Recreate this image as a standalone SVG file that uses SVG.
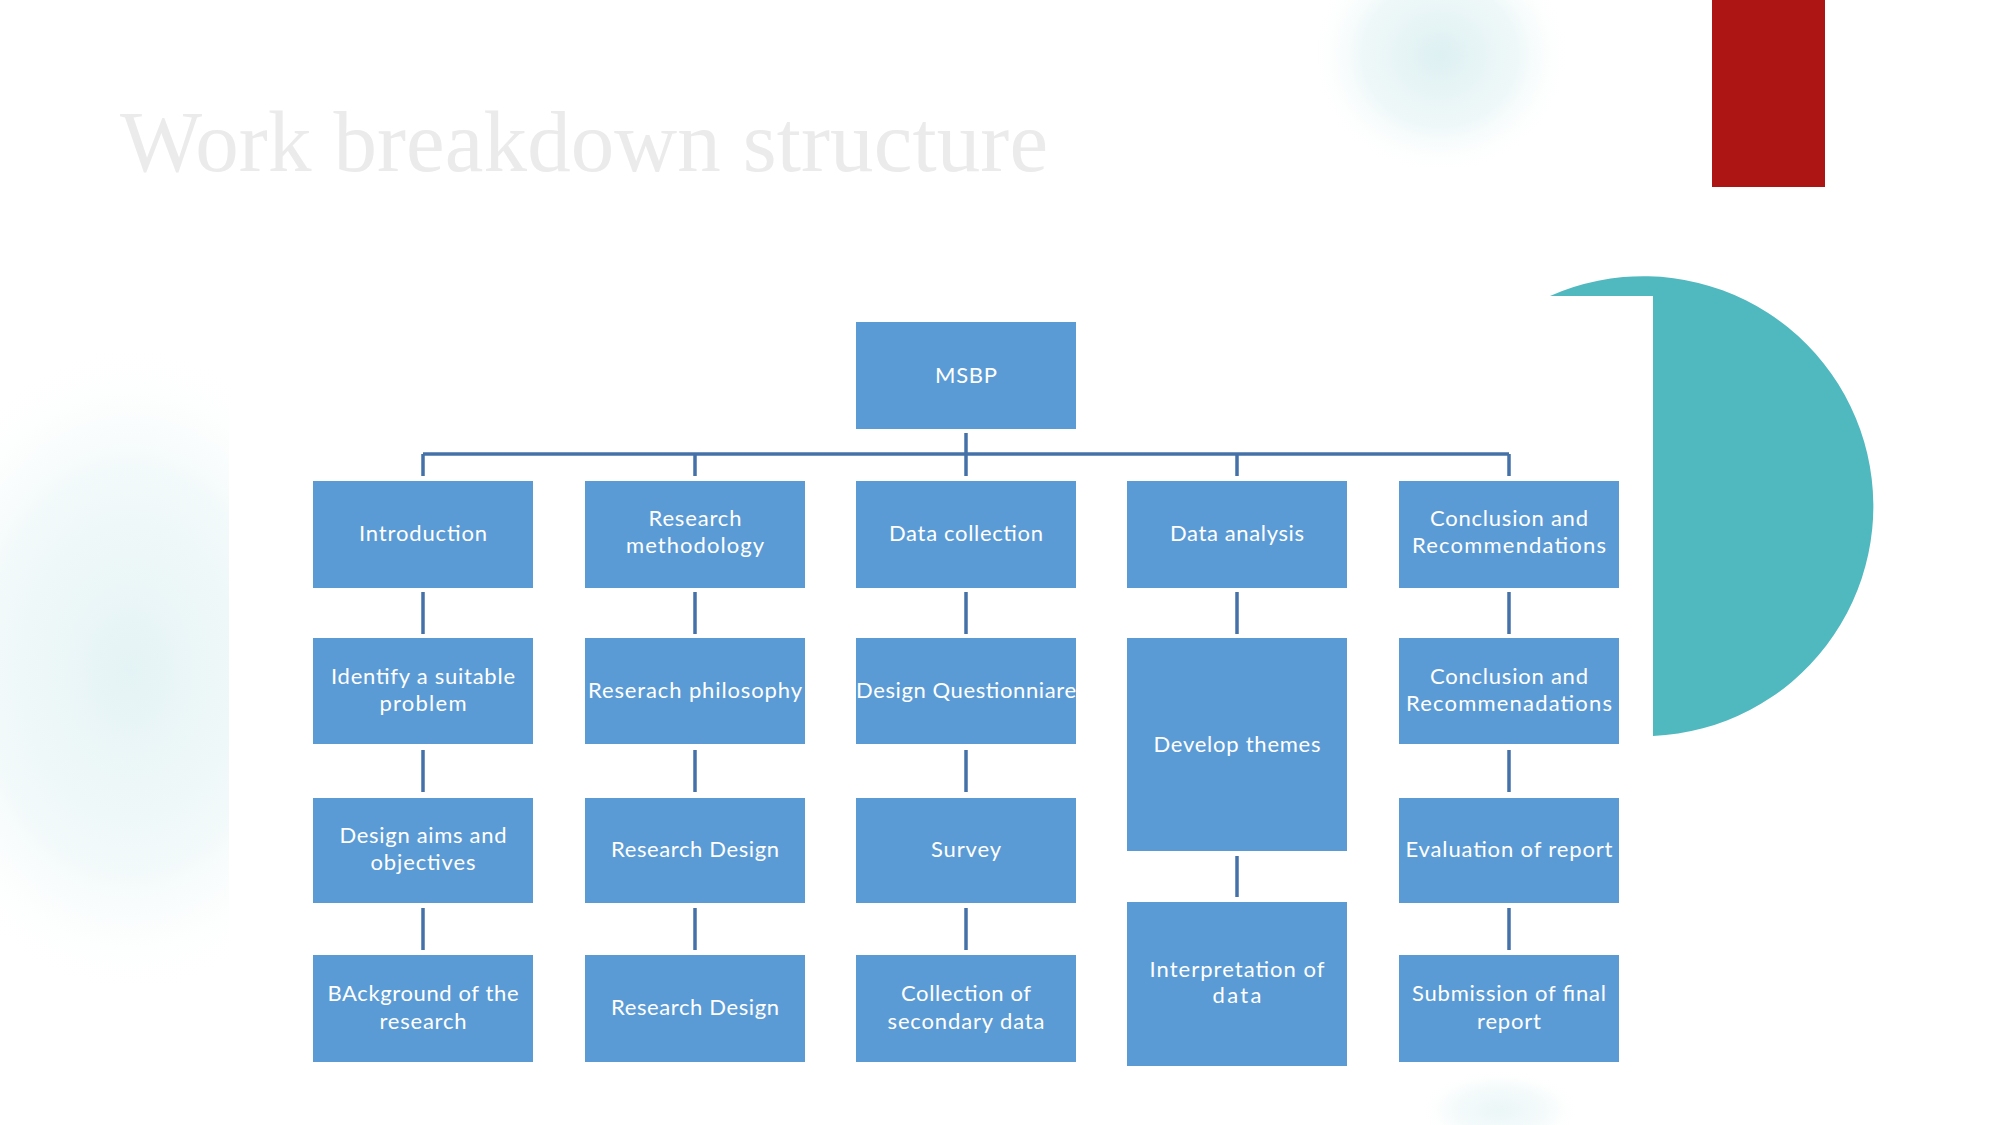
<svg xmlns="http://www.w3.org/2000/svg" width="2001" height="1125" viewBox="0 0 2001 1125">
<style>
.box{fill:#5B9BD5;}
.lbl{font-family:Lato,"Open Sans","Liberation Sans",sans-serif;font-size:22px;fill:#FFFFFF;text-anchor:middle;}
.con{stroke:#4472A8;stroke-width:3.5;fill:none;}
.title{font-family:"Liberation Serif","Times New Roman",serif;font-size:87px;fill:#EBEBEB;}
</style>
<defs>
<radialGradient id="glow" cx="0.5" cy="0.5" r="0.5">
<stop offset="0" stop-color="#DDF0F2" stop-opacity="1"/>
<stop offset="0.6" stop-color="#E8F5F6" stop-opacity="0.7"/>
<stop offset="1" stop-color="#FFFFFF" stop-opacity="0"/>
</radialGradient>
<clipPath id="leftclip"><rect x="0" y="0" width="229" height="1125"/></clipPath>
</defs>
<rect x="0" y="0" width="2001" height="1125" fill="#FFFFFF"/>
<g id="background">
<ellipse cx="1440" cy="55" rx="130" ry="120" fill="url(#glow)"/>
<g clip-path="url(#leftclip)">
<ellipse cx="130" cy="670" rx="240" ry="330" fill="url(#glow)" opacity="0.8"/>
</g>
<ellipse cx="1500" cy="1110" rx="80" ry="40" fill="url(#glow)" opacity="0.6"/>
<rect x="1712" y="0" width="113" height="187" fill="#AD1515"/>
<path d="M1653,296 L1550,296 A230,230 0 1 1 1653,736 Z" fill="#50B9BF"/>
</g>
<text class="title" x="120" y="171" textLength="928">Work breakdown structure</text>
<g id="connectors">
<path class="con" d="M966,433 V476"/>
<path class="con" d="M423,454 H1509"/>
<path class="con" d="M423,454 V476 M695,454 V476 M1237,454 V476 M1509,454 V476"/>
<path class="con" d="M423,592 V634 M695,592 V634 M966,592 V634 M1237,592 V634 M1509,592 V634"/>
<path class="con" d="M423,750 V792 M695,750 V792 M966,750 V792 M1509,750 V792"/>
<path class="con" d="M423,908 V950 M695,908 V950 M966,908 V950 M1509,908 V950"/>
<path class="con" d="M1237,856 V897"/>
</g>
<g id="msbp"><rect class="box" x="856" y="322" width="220" height="107"/><text class="lbl" x="966" y="383" textLength="62">MSBP</text></g>
<g id="introduction"><rect class="box" x="313" y="481" width="220" height="107"/><text class="lbl" x="423" y="541" textLength="128">Introduction</text></g>
<g id="research-methodology"><rect class="box" x="585" y="481" width="220" height="107"/><text class="lbl" x="695" y="526" textLength="93">Research</text><text class="lbl" x="695" y="553" textLength="138">methodology</text></g>
<g id="data-collection"><rect class="box" x="856" y="481" width="220" height="107"/><text class="lbl" x="966" y="541" textLength="154">Data collection</text></g>
<g id="data-analysis"><rect class="box" x="1127" y="481" width="220" height="107"/><text class="lbl" x="1237" y="541" textLength="134">Data analysis</text></g>
<g id="conclusion"><rect class="box" x="1399" y="481" width="220" height="107"/><text class="lbl" x="1509" y="526" textLength="158">Conclusion and</text><text class="lbl" x="1509" y="553" textLength="194">Recommendations</text></g>
<g id="identify-problem"><rect class="box" x="313" y="638" width="220" height="106"/><text class="lbl" x="423" y="684" textLength="184">Identify a suitable</text><text class="lbl" x="423" y="711" textLength="87">problem</text></g>
<g id="research-philosophy"><rect class="box" x="585" y="638" width="220" height="106"/><text class="lbl" x="695" y="698" textLength="214">Reserach philosophy</text></g>
<g id="design-questionnaire"><rect class="box" x="856" y="638" width="220" height="106"/><text class="lbl" x="966" y="698" textLength="220">Design Questionniare</text></g>
<g id="develop-themes"><rect class="box" x="1127" y="638" width="220" height="213"/><text class="lbl" x="1237" y="752" textLength="167">Develop themes</text></g>
<g id="conclusion-2"><rect class="box" x="1399" y="638" width="220" height="106"/><text class="lbl" x="1509" y="684" textLength="158">Conclusion and</text><text class="lbl" x="1509" y="711" textLength="206">Recommenadations</text></g>
<g id="design-aims"><rect class="box" x="313" y="798" width="220" height="105"/><text class="lbl" x="423" y="843" textLength="167">Design aims and</text><text class="lbl" x="423" y="870" textLength="105">objectives</text></g>
<g id="research-design-1"><rect class="box" x="585" y="798" width="220" height="105"/><text class="lbl" x="695" y="857" textLength="168">Research Design</text></g>
<g id="survey"><rect class="box" x="856" y="798" width="220" height="105"/><text class="lbl" x="966" y="857" textLength="70">Survey</text></g>
<g id="evaluation"><rect class="box" x="1399" y="798" width="220" height="105"/><text class="lbl" x="1509" y="857" textLength="207">Evaluation of report</text></g>
<g id="background-research"><rect class="box" x="313" y="955" width="220" height="107"/><text class="lbl" x="423" y="1001" textLength="191">BAckground of the</text><text class="lbl" x="423" y="1029" textLength="87">research</text></g>
<g id="research-design-2"><rect class="box" x="585" y="955" width="220" height="107"/><text class="lbl" x="695" y="1015" textLength="168">Research Design</text></g>
<g id="secondary-data"><rect class="box" x="856" y="955" width="220" height="107"/><text class="lbl" x="966" y="1001" textLength="130">Collection of</text><text class="lbl" x="966" y="1029" textLength="157">secondary data</text></g>
<g id="interpretation"><rect class="box" x="1127" y="902" width="220" height="164"/><text class="lbl" x="1237" y="977" textLength="175">Interpretation of</text><text class="lbl" x="1237" y="1003" textLength="49">data</text></g>
<g id="submission"><rect class="box" x="1399" y="955" width="220" height="107"/><text class="lbl" x="1509" y="1001" textLength="194">Submission of final</text><text class="lbl" x="1509" y="1029" textLength="64">report</text></g>
</svg>
